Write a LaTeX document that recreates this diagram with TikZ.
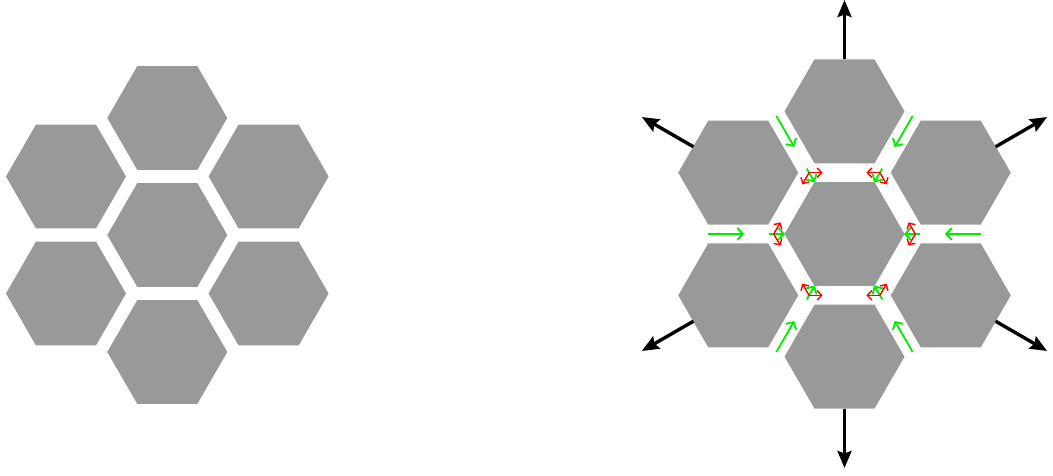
\documentclass[tikz,border=0pt]{standalone}
\usetikzlibrary{arrows.meta,calc}
\definecolor{hexgray}{RGB}{153,153,153}
\definecolor{flowgreen}{RGB}{0,235,0}
\definecolor{flowred}{RGB}{255,0,0}
\tikzset{
  hexcell/.style={fill=hexgray},
  outarrow/.style={line width=3.4pt,-{Stealth[length=17pt,width=14pt,inset=2.5pt]}},
  greenflow/.style={flowgreen,line width=1.8pt,-{Straight Barb[length=5.5pt,width=12pt]}},
  redflow/.style={flowred,line width=1.4pt,-{Straight Barb[length=4.5pt,width=9.5pt]}},
}
\newcommand\hexcellat[1]{\fill[hexcell,shift={#1}] (0:60) -- (60:60) -- (120:60) -- (180:60) -- (240:60) -- (300:60) -- cycle;}
\begin{document}
\begin{tikzpicture}[x=1pt,y=1pt]
\useasboundingbox (0,0) rectangle (1053,475);
% left cluster
\coordinate (L) at (167.3,240);
\hexcellat{(L)}
\foreach \b in {30,90,...,330}{
  \hexcellat{($(L)+(\b:117)$)}
}
% right cluster
\coordinate (R) at (844.5,241);
\hexcellat{(R)}
\foreach \b in {30,90,...,330}{
  \hexcellat{($(R)+(\b:122.7)$)}
  \coordinate (s\b) at ($(R)+(\b:174.5)$);
  \coordinate (t\b) at ($(R)+(\b:234)$);
  \draw[outarrow] (s\b) -- (t\b);
}
\foreach \a in {0,60,...,300}{
  \coordinate (go\a) at ($(R)+(\a:136.3)$);
  \coordinate (gi\a) at ($(R)+(\a:100.5)$);
  \draw[greenflow] (go\a) -- (gi\a);
  \coordinate (j\a) at ($(R)+(\a:70.8)$);
  \coordinate (ja\a) at ($(R)+(\a:75.5)$);
  \coordinate (v\a) at ($(R)+(\a:59.5)$);
  \draw[greenflow] (ja\a) -- (v\a);
  \draw[redflow] (j\a) -- ($(j\a)+(\a+120:13.5)$);
  \draw[redflow] (j\a) -- ($(j\a)+(\a-120:13.5)$);
}
\end{tikzpicture}
\end{document}
